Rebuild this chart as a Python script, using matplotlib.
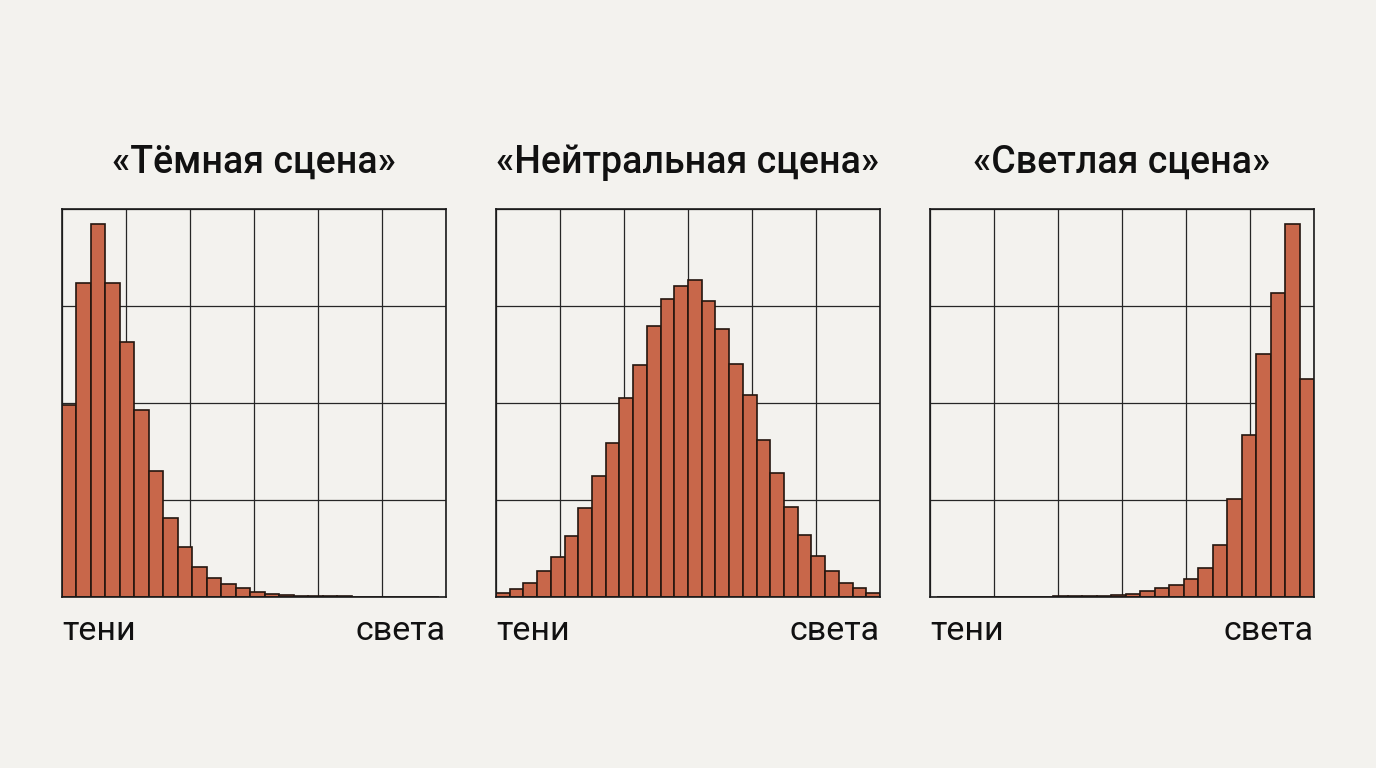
import matplotlib
matplotlib.use("Agg")
import matplotlib.pyplot as plt
import numpy as np

#-------------------------------------
# chart data (bar heights as share of the panel height)
titles = ["«Тёмная сцена»", "«Нейтральная сцена»", "«Светлая сцена»"]
left_label = "тени"
right_label = "света"

dark_scene = [0.496, 0.808, 0.962, 0.808, 0.656, 0.481, 0.324, 0.204, 0.130,
              0.078, 0.048, 0.034, 0.023, 0.013, 0.0086, 0.005, 0.0035, 0.0025,
              0.002, 0.0015, 0.001, 0.0008, 0.0006, 0.0005, 0.0004, 0.0003]

neutral_scene = [0.0095, 0.021, 0.036, 0.066, 0.104, 0.158, 0.229, 0.312, 0.397,
                 0.513, 0.597, 0.699, 0.769, 0.802, 0.816, 0.762, 0.692, 0.600,
                 0.521, 0.405, 0.320, 0.231, 0.161, 0.105, 0.068, 0.036, 0.023,
                 0.010]

light_scene = [0.0001, 0.0001, 0.0002, 0.0003, 0.0004, 0.0006, 0.0008, 0.001,
               0.0015, 0.002, 0.0025, 0.0035, 0.005, 0.0086, 0.0146, 0.022,
               0.030, 0.047, 0.076, 0.134, 0.252, 0.417, 0.627, 0.784, 0.962,
               0.563]
#-------------------------------------

bg = "#F3F2EE"
bar_color = "#C8674A"
edge_color = "#24160F"
grid_color = "#262626"

plt.rcParams['font.family'] = ['Roboto', 'DejaVu Sans']

fig = plt.figure(figsize=(13.76, 7.68), dpi=100)
fig.patch.set_facecolor(bg)

W, H = 1376, 768
lefts = [62, 496, 930]
ax_w, ax_h = 384, 388
ax_bottom = 768 - 597

# (values, x range of the panel, offset of first bar)
panels = [
    (dark_scene, 26.5, 0.0),
    (neutral_scene, 28.0, 0.0),
    (light_scene, 26.5, 0.5),
]

for i, (vals, xmax, offset) in enumerate(panels):
    ax = fig.add_axes([lefts[i] / W, ax_bottom / H, ax_w / W, ax_h / H])
    ax.set_facecolor(bg)
    x = np.arange(len(vals)) + offset
    ax.bar(x, vals, width=1.0, align='edge', color=bar_color,
           edgecolor=edge_color, linewidth=1.2, zorder=3)
    ax.set_xlim(0, xmax)
    ax.set_ylim(0, 1)
    ax.set_xticks(np.linspace(0, xmax, 7))
    ax.set_yticks(np.linspace(0, 1, 5))
    ax.grid(True, color=grid_color, linewidth=0.9, zorder=0)
    ax.set_axisbelow(True)
    ax.tick_params(length=0, labelbottom=False, labelleft=False)
    for s in ax.spines.values():
        s.set_linewidth(1.2)
        s.set_color("#1A1A1A")
        s.set_zorder(5)

    # title and axis end labels
    ax.text(0.5, 1 + 36 / ax_h, titles[i], transform=ax.transAxes,
            ha='center', va='baseline', fontsize=27, fontweight='medium',
            color='#111111')
    ax.text(0.0, -43 / ax_h, left_label, transform=ax.transAxes,
            ha='left', va='baseline', fontsize=24.5, color='#111111')
    ax.text(1.0, -43 / ax_h, right_label, transform=ax.transAxes,
            ha='right', va='baseline', fontsize=24.5, color='#111111')

fig.savefig("out.png", dpi=100, facecolor=bg)
